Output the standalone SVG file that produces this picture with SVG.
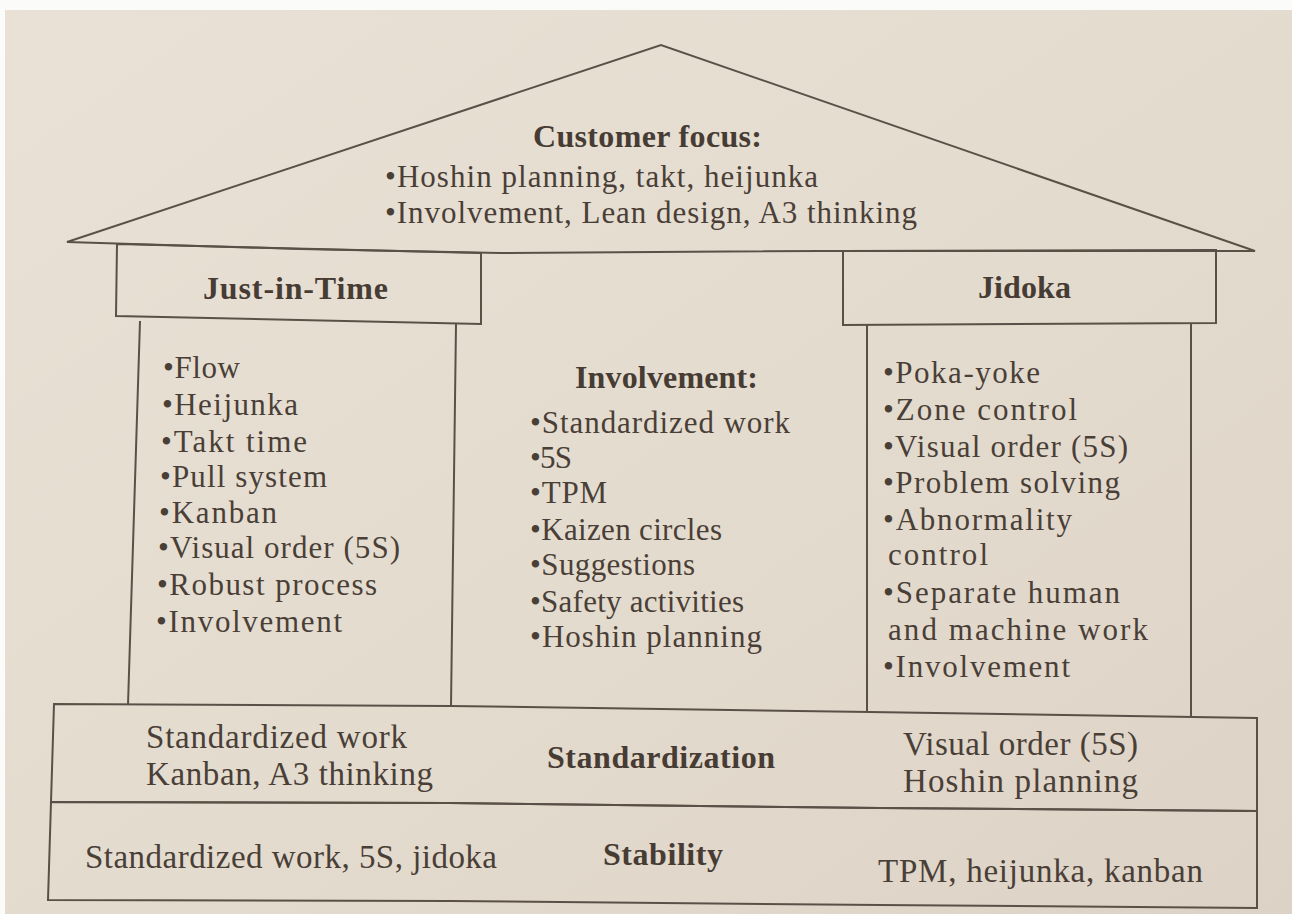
<svg xmlns="http://www.w3.org/2000/svg" width="1292" height="914" viewBox="0 0 1292 914">
  <defs>
    <linearGradient id="paper" x1="0" y1="0" x2="1" y2="1">
      <stop offset="0" stop-color="#e9e1d5"/>
      <stop offset="0.55" stop-color="#e4dbcf"/>
      <stop offset="1" stop-color="#ddd2c6"/>
    </linearGradient>
    <style>
      .ln { fill: none; stroke: #5b5047; stroke-width: 2; stroke-linejoin: miter; }
      .t  { font-family: "Liberation Serif", "Times New Roman", serif; font-size: 31px; fill: #4a3f37; }
      .h  { font-family: "Liberation Serif", "Times New Roman", serif; font-size: 32px; font-weight: bold; fill: #473c34; }
      .bd { font-family: "Liberation Serif", "Times New Roman", serif; font-size: 33px; fill: #4a3f37; }
    </style>
  </defs>

  <!-- page -->
  <rect x="0" y="0" width="1292" height="914" fill="#fbfbfa"/>
  <rect x="5" y="10" width="1287" height="904" fill="url(#paper)"/>

  <!-- roof -->
  <g id="roof">
    <path class="ln" d="M67,242 L661,45 L1255,251 L820,251 L500,253 L300,249 Z"/>
    <text class="h" x="533" y="147" textLength="229" lengthAdjust="spacing">Customer focus:</text>
    <text class="t" x="385" y="187" textLength="433" lengthAdjust="spacing">•Hoshin planning, takt, heijunka</text>
    <text class="t" x="385" y="223" textLength="532" lengthAdjust="spacing">•Involvement, Lean design, A3 thinking</text>
  </g>

  <!-- left capital -->
  <g id="capital-jit">
    <path class="ln" d="M117,244 L481,253 L481,324 L116,316 Z"/>
    <text class="h" x="203" y="299" textLength="185" lengthAdjust="spacing">Just-in-Time</text>
  </g>

  <!-- left pillar -->
  <g id="pillar-jit">
    <path class="ln" d="M140,321 L128,705 M456,324 L451,706"/>
    <text class="t" x="163" y="378" textLength="77" lengthAdjust="spacing">•Flow</text>
    <text class="t" x="162" y="415" textLength="136" lengthAdjust="spacing">•Heijunka</text>
    <text class="t" x="161" y="452" textLength="146" lengthAdjust="spacing">•Takt time</text>
    <text class="t" x="160" y="487" textLength="167" lengthAdjust="spacing">•Pull system</text>
    <text class="t" x="159" y="523" textLength="118" lengthAdjust="spacing">•Kanban</text>
    <text class="t" x="158" y="558" textLength="242" lengthAdjust="spacing">•Visual order (5S)</text>
    <text class="t" x="157" y="595" textLength="220" lengthAdjust="spacing">•Robust process</text>
    <text class="t" x="156" y="632" textLength="186" lengthAdjust="spacing">•Involvement</text>
  </g>

  <!-- centre -->
  <g id="centre-involvement">
    <text class="h" x="575" y="388" textLength="183" lengthAdjust="spacing">Involvement:</text>
    <text class="t" x="530" y="433" textLength="260" lengthAdjust="spacing">•Standardized work</text>
    <text class="t" x="530" y="468" textLength="42" lengthAdjust="spacing">•5S</text>
    <text class="t" x="530" y="503" textLength="77" lengthAdjust="spacing">•TPM</text>
    <text class="t" x="530" y="540" textLength="192" lengthAdjust="spacing">•Kaizen circles</text>
    <text class="t" x="530" y="575" textLength="165" lengthAdjust="spacing">•Suggestions</text>
    <text class="t" x="530" y="612" textLength="214" lengthAdjust="spacing">•Safety activities</text>
    <text class="t" x="530" y="647" textLength="232" lengthAdjust="spacing">•Hoshin planning</text>
  </g>

  <!-- right capital -->
  <g id="capital-jidoka">
    <path class="ln" d="M843,251 L1216,250 L1216,323 L843,325 Z"/>
    <text class="h" x="978" y="298" textLength="93" lengthAdjust="spacing">Jidoka</text>
  </g>

  <!-- right pillar -->
  <g id="pillar-jidoka">
    <path class="ln" d="M867,325 L867,713 M1191,323 L1191,717"/>
    <text class="t" x="883" y="383" textLength="157" lengthAdjust="spacing">•Poka-yoke</text>
    <text class="t" x="883" y="420" textLength="194" lengthAdjust="spacing">•Zone control</text>
    <text class="t" x="883" y="457" textLength="245" lengthAdjust="spacing">•Visual order (5S)</text>
    <text class="t" x="883" y="493" textLength="237" lengthAdjust="spacing">•Problem solving</text>
    <text class="t" x="883" y="530" textLength="189" lengthAdjust="spacing">•Abnormality</text>
    <text class="t" x="888" y="565" textLength="100" lengthAdjust="spacing">control</text>
    <text class="t" x="883" y="603" textLength="237" lengthAdjust="spacing">•Separate human</text>
    <text class="t" x="888" y="640" textLength="260" lengthAdjust="spacing">and machine work</text>
    <text class="t" x="883" y="677" textLength="187" lengthAdjust="spacing">•Involvement</text>
  </g>

  <!-- standardization band -->
  <g id="band-standardization">
    <path class="ln" d="M54,704 L450,706 L870,712 L1257,718 L1257,811 L880,808 L450,803 L51,802 Z"/>
    <text class="bd" x="146" y="748" textLength="261" lengthAdjust="spacing">Standardized work</text>
    <text class="bd" x="146" y="785" textLength="287" lengthAdjust="spacing">Kanban, A3 thinking</text>
    <text class="h" x="547" y="768" textLength="228" lengthAdjust="spacing">Standardization</text>
    <text class="bd" x="903" y="755" textLength="235" lengthAdjust="spacing">Visual order (5S)</text>
    <text class="bd" x="903" y="792" textLength="235" lengthAdjust="spacing">Hoshin planning</text>
  </g>

  <!-- stability band -->
  <g id="band-stability">
    <path class="ln" d="M51,802 L450,803 L880,808 L1257,811 L1257,908 L880,905 L450,901 L48,900 Z"/>
    <text class="bd" x="85" y="868" textLength="412" lengthAdjust="spacing">Standardized work, 5S, jidoka</text>
    <text class="h" x="603" y="865" textLength="120" lengthAdjust="spacing">Stability</text>
    <text class="bd" x="878" y="882" textLength="325" lengthAdjust="spacing">TPM, heijunka, kanban</text>
  </g>
</svg>
